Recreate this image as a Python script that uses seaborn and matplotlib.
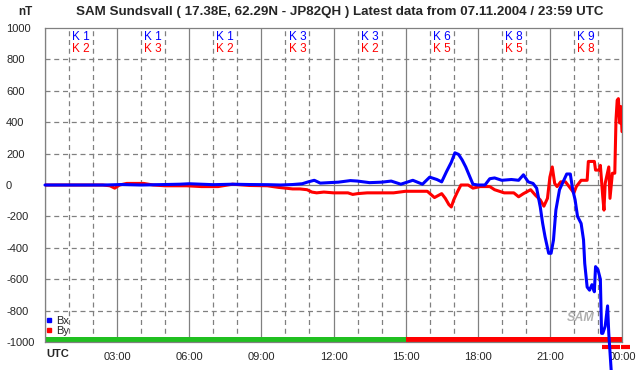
import matplotlib
matplotlib.use('Agg')
import matplotlib.pyplot as plt
import seaborn as sns
from matplotlib.lines import Line2D

# Bx component (hours UTC, nT)
bx_hours = [0, 2.5, 3.2, 4.0, 5.0, 5.6, 6.0, 7.0, 7.8, 8.5, 9.3, 9.8, 10.3, 10.7, 10.95,
            11.2, 11.45, 11.8, 12.2, 12.7, 13.0, 13.5, 14.0, 14.4, 14.8, 15.3, 15.7, 16.0,
            16.3, 16.5, 16.7, 16.9, 17.05, 17.2, 17.35, 17.5, 17.65, 17.8, 18.0, 18.3, 18.5,
            18.7, 19.0, 19.4, 19.7, 19.9, 20.1, 20.3, 20.45, 20.6, 20.7, 20.8, 20.95, 21.05,
            21.15, 21.25, 21.4, 21.55, 21.7, 21.85, 21.95, 22.05, 22.15, 22.3, 22.4, 22.45,
            22.55, 22.65, 22.75, 22.85, 22.9, 23.0, 23.1, 23.15, 23.2, 23.3, 23.4, 23.45, 23.55]
bx_values = [0, 0, 3, 0, 3, 5, 8, 2, 5, 3, 2, 0, 3, 8, 20,
             30, 12, 15, 18, 28, 25, 15, 18, 25, 5, 30, 5, 50,
             35, 20, 85, 145, 205, 195, 160, 115, 60, 5, 0, 0, 40,
             45, 30, 35, 30, 65, 20, 10, -20, -140, -245, -330, -435, -435,
             -350, -160, -30, 20, 70, 70, -30, -95, -200, -245, -350, -500,
             -650, -670, -635, -680, -520, -540, -600, -945, -945, -900, -770, -945, -1180]

# By component
by_hours = [0, 2.4, 2.7, 2.9, 3.1, 3.4, 4.1, 4.5, 5.0, 5.9, 6.5, 7.2, 7.8, 8.5, 9.25, 9.7,
            10.0, 10.3, 10.6, 10.9, 11.1, 11.3, 11.6, 12.0, 12.6, 12.8, 13.0, 13.4, 14.5,
            15.0, 15.9, 16.2, 16.5, 16.65, 16.8, 16.9, 17.0, 17.15, 17.3, 17.6, 17.8, 18.1,
            18.5, 18.7, 19.1, 19.5, 19.7, 19.9, 20.2, 20.4, 20.6, 20.75, 20.9, 21.0, 21.1,
            21.2, 21.3, 21.45, 21.65, 21.9, 22.0, 22.1, 22.3, 22.55, 22.6, 22.85, 22.9,
            23.05, 23.1, 23.2, 23.25, 23.3, 23.45, 23.5, 23.6, 23.7, 23.75, 23.8, 23.85,
            23.9, 23.95, 24.0]
by_values = [0, 0, -5, -20, 0, 10, 10, 0, -5, -5, -10, -10, 5, -3, -5, -15,
             -20, -25, -25, -30, -45, -50, -45, -50, -50, -60, -55, -50, -50,
             -40, -40, -80, -55, -85, -125, -140, -95, -45, 0, 0, -20, -10,
             -10, -30, -50, -50, -75, -55, -30, -65, -95, -135, -85, 50, 115,
             10, -10, 20, 20, -30, -50, -10, 30, 30, 150, 150, 95,
             95, 125, -75, -160, 10, 115, -85, 75, 75, 415, 540, 550,
             395, 500, 340]

# K indices per 3 hour block
k_centers = [1.5, 4.5, 7.5, 10.5, 13.5, 16.5, 19.5, 22.5]
k_bx = [1, 1, 1, 3, 3, 6, 8, 9]
k_by = [2, 3, 2, 3, 2, 5, 5, 8]

# status bar along the bottom
status_start = [0, 15]
status_end = [15, 24]
status_colors = ['#20c020', '#ff0000']
extra_start = [23.17, 23.55, 23.96]
extra_end = [23.52, 23.92, 24.33]

x_ticks = [3, 6, 9, 12, 15, 18, 21, 24]
x_labels = ['03:00', '06:00', '09:00', '12:00', '15:00', '18:00', '21:00', '00:00']
y_ticks = list(range(-1000, 1001, 200))

sns.set_style('white')
plt.rcParams['font.family'] = ['Liberation Sans', 'DejaVu Sans']

fig = plt.figure(figsize=(6.42, 3.70), dpi=100)
ax = fig.add_axes([45 / 642, 1 - 342 / 370, 577 / 642, 314 / 370])

grid_c = '#808080'
ax.set_xlim(0, 24)
ax.set_ylim(-1000, 1000)

# grid: solid every 3 h and at zero, dashed otherwise
for h in range(0, 25):
    if h % 3 == 0:
        ax.axvline(h, color=grid_c, lw=0.9, zorder=1)
    else:
        ax.axvline(h, color=grid_c, lw=0.9, ls=(0, (4, 3)), zorder=1)
for v in range(-800, 1000, 200):
    if v == 0:
        ax.axhline(v, color=grid_c, lw=0.9, zorder=1)
    else:
        ax.axhline(v, color=grid_c, lw=0.9, ls=(0, (4, 3)), zorder=1)

# status bars
for s, e, c in zip(status_start, status_end, status_colors):
    ax.fill_between([s, e], -1000, -968, color=c, lw=0, zorder=2)
ax.hlines([-1032] * len(extra_start), extra_start, extra_end, colors='#ff0000',
          lw=3, clip_on=False, zorder=2)

# watermark
ax.text(22.3, -850, 'SAM', color='#b0b0b0', fontsize=9, fontstyle='italic',
        fontweight='bold', ha='center', va='center', zorder=2)

sns.lineplot(x=by_hours, y=by_values, color='#ff0000', lw=2.2, ax=ax, zorder=3, sort=False)
sns.lineplot(x=bx_hours, y=bx_values, color='#0000ff', lw=2.2, ax=ax, zorder=4,
             sort=False, clip_on=False)

# K indices
for c, kx, ky in zip(k_centers, k_bx, k_by):
    ax.text(c, 945, f'K {kx}', color='#0000ff', ha='center', va='center', fontsize=8.5)
    ax.text(c, 866, f'K {ky}', color='#ff0000', ha='center', va='center', fontsize=8.5)

# axes styling
for sp in ax.spines.values():
    sp.set_color(grid_c)
    sp.set_linewidth(0.9)
ax.set_yticks(y_ticks)
ax.set_yticklabels([str(v) for v in y_ticks])
for lab in ax.get_yticklabels():
    lab.set_ha('left')
ax.tick_params(axis='y', length=3, width=0.9, color=grid_c, pad=25, labelsize=8)
ax.set_xticks(x_ticks)
ax.set_xticklabels(x_labels)
ax.tick_params(axis='x', length=5, width=0.9, color=grid_c, pad=2, labelsize=8)
ax.set_xlabel('')
ax.set_ylabel('')

ax.text(0.05, -1045, 'UTC', ha='left', va='top', fontsize=8, fontweight='bold')

handles = [Line2D([], [], ls='', marker='s', markersize=3, color='#0000ff'),
           Line2D([], [], ls='', marker='s', markersize=3, color='#ff0000')]
ax.legend(handles, ['Bx', 'By'], loc='lower left', bbox_to_anchor=(0.0, 0.015),
          frameon=False, fontsize=8, handlelength=0.6, handletextpad=0.3,
          labelspacing=0.05, borderpad=0.1, borderaxespad=0)

fig.text(340 / 642, 1 - 12 / 370, 'SAM Sundsvall ( 17.38E, 62.29N - JP82QH ) Latest data from 07.11.2004 / 23:59 UTC',
         ha='center', va='center', fontsize=9.6, fontweight='bold')
fig.text(25 / 642, 1 - 12 / 370, 'nT', ha='center', va='center', fontsize=8.5, fontweight='bold')

fig.savefig('out.png', dpi=100)
